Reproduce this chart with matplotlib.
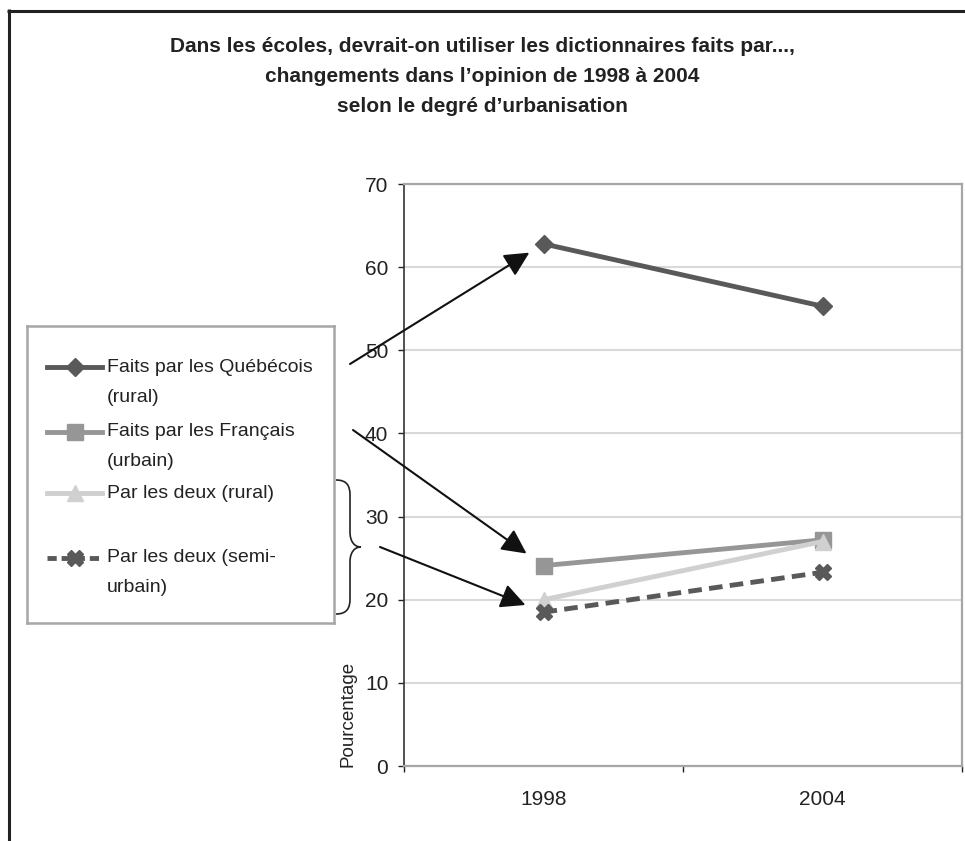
import matplotlib
matplotlib.use("Agg")
import matplotlib.pyplot as plt
from matplotlib.path import Path
from matplotlib.patches import PathPatch

years = ["1998", "2004"]
quebecois_rural = [62.8, 55.3]
francais_urbain = [24.1, 27.2]
deux_rural = [20.0, 27.0]
deux_semi_urbain = [18.5, 23.3]
y_ticks = [0, 10, 20, 30, 40, 50, 60, 70]

labels = [
    "Faits par les Québécois\n(rural)",
    "Faits par les Français\n(urbain)",
    "Par les deux (rural)",
    "Par les deux (semi-\nurbain)",
]
title = ("Dans les écoles, devrait-on utiliser les dictionnaires faits par...,\n"
         "changements dans l’opinion de 1998 à 2004\n"
         "selon le degré d’urbanisation")

plt.rcParams["font.family"] = ["Liberation Sans", "DejaVu Sans"]

W, H = 965, 841


def fx(x):
    return x / W


def fy(y):
    return 1 - y / H


fig = plt.figure(figsize=(W / 100, H / 100), dpi=100)

# series styles: colour, marker, size, dashes
styles = [
    ("#595959", "D", 9, None),
    ("#969696", "s", 11.5, None),
    ("#d0d0d0", "^", 12, None),
    ("#595959", "X", 12, (2.8, 1.5)),
]
series = [quebecois_rural, francais_urbain, deux_rural, deux_semi_urbain]

ax = fig.add_axes([fx(404), fy(766), fx(962) - fx(404), fy(184) - fy(766)])
x = range(len(years))
for i, (vals, (col, mk, ms, dash)) in enumerate(zip(series, styles)):
    kw = dict(color=col, lw=3.5, marker=mk, ms=ms, mec=col, mfc=col, zorder=3 + i)
    if dash:
        kw["dashes"] = dash
    ax.plot(x, vals, **kw)

ax.set_xlim(-0.5, 1.5)
ax.set_ylim(0, 70)
ax.set_yticks(y_ticks)
ax.yaxis.grid(True, color="#d9d9d9", lw=1.5)
ax.set_axisbelow(True)
ax.set_xticks([-0.5, 0.5, 1.5])
ax.set_xticklabels([])
ax.set_xticks(list(x), minor=True)
ax.set_xticklabels(years, minor=True)
ax.tick_params(axis="x", which="minor", length=0, pad=17, labelsize=15, labelcolor="#222222")
ax.tick_params(axis="x", which="major", length=4.3, width=1, color="#222222", direction="out")
ax.tick_params(axis="y", length=4.3, width=1, color="#222222", pad=7, labelsize=15,
               labelcolor="#222222")
ax.spines["left"].set_color("#333333")
ax.spines["left"].set_linewidth(1.2)
for s in ["top", "right", "bottom"]:
    ax.spines[s].set_color("#a6a6a6")
    ax.spines[s].set_linewidth(1.6)

fig.text(fx(348), fy(767), "Pourcentage", rotation=90, ha="center", va="bottom",
         fontsize=13.5, color="#222222")

fig.text(0.5, fy(37), title, ha="center", va="top", fontsize=15, fontweight="bold",
         linespacing=1.72, color="#222222")

# arrows from the legend to the 1998 points
arrow_starts = [(350, 364), (353, 430), (380, 547)]
arrow_targets = [quebecois_rural[0], francais_urbain[0], deux_semi_urbain[0]]
arrow_shrink = [12, 15, 14]
for (sx, sy), val, sh in zip(arrow_starts, arrow_targets, arrow_shrink):
    ax.annotate("", xy=(0, val), xycoords="data", xytext=(sx, H - sy),
                textcoords="figure pixels", annotation_clip=False,
                arrowprops=dict(arrowstyle="-|>,head_length=1.0,head_width=0.5",
                                mutation_scale=15, color="#111111", lw=1.5,
                                shrinkA=0, shrinkB=sh))

# legend box
lg = fig.add_axes([fx(27), fy(623), fx(334) - fx(27), fy(326) - fy(623)])
lg.set_xlim(0, 307)
lg.set_ylim(297, 0)
lg.set_xticks([])
lg.set_yticks([])
for s in lg.spines.values():
    s.set_color("#a6a6a6")
    s.set_linewidth(1.8)
entry_y = [41, 106, 167, 232]
for ey, lab, (col, mk, ms, dash) in zip(entry_y, labels, styles):
    kw = dict(color=col, lw=3.5, marker=mk, ms=ms, mec=col, mfc=col, markevery=[1])
    if dash:
        kw["dashes"] = (1.9, 1.0)
    lg.plot([20, 47.5, 75], [ey, ey, ey], **kw)
    for j, line in enumerate(lab.split("\n")):
        lg.text(80, ey + 30 * j, line, ha="left", va="center", fontsize=14, color="#222222")

# overlay: outer frame and brace
ov = fig.add_axes([0, 0, 1, 1], zorder=10)
ov.set_xlim(0, W)
ov.set_ylim(H, 0)
ov.axis("off")
ov.patch.set_alpha(0)
ov.plot([7, W], [10.5, 10.5], color="#222222", lw=2.2, solid_capstyle="butt")
ov.plot([8.5, 8.5], [9, H], color="#222222", lw=2.2, solid_capstyle="butt")

brace = Path(
    [(336, 480), (347, 480), (350, 486), (350, 495), (350, 532),
     (350, 541), (354, 547), (361, 547),
     (354, 547), (350, 553), (350, 562), (350, 599),
     (350, 608), (347, 614), (336, 614)],
    [Path.MOVETO, Path.CURVE4, Path.CURVE4, Path.CURVE4, Path.LINETO,
     Path.CURVE4, Path.CURVE4, Path.CURVE4,
     Path.CURVE4, Path.CURVE4, Path.CURVE4, Path.LINETO,
     Path.CURVE4, Path.CURVE4, Path.CURVE4])
ov.add_patch(PathPatch(brace, fill=False, color="#222222", lw=1.2))

fig.savefig("out.png", dpi=100)
